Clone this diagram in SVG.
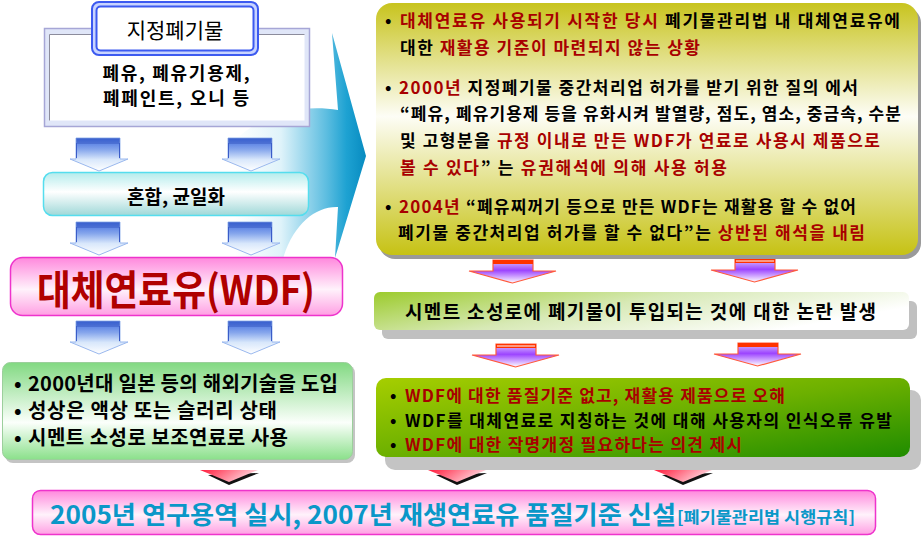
<svg xmlns="http://www.w3.org/2000/svg" width="922" height="537" viewBox="0 0 922 537">
<defs>
<style>
text { font-family: "Noto Sans CJK KR", "Noto Sans", sans-serif; fill: #000; }
.t17 { font-size: 17px; font-weight: bold; }
.t19 { font-size: 19px; font-weight: bold; }
.t20 { font-size: 20px; font-weight: bold; }
.r { fill: #a80000; }
.rb { fill: #b00000; }
.blue { fill: #0a97c8; }
</style>
<linearGradient id="gFlow" gradientUnits="userSpaceOnUse" x1="235" y1="0" x2="366" y2="0">
<stop offset="0" stop-color="#ffffff"/><stop offset="0.35" stop-color="#dff3fa"/><stop offset="0.7" stop-color="#5cbde0"/><stop offset="0.85" stop-color="#1ea2d2"/><stop offset="1" stop-color="#078bc0"/>
</linearGradient>
<linearGradient id="gBlue" x1="0" y1="0" x2="0" y2="1">
<stop offset="0" stop-color="#3f6be0"/><stop offset="0.35" stop-color="#86a6ec"/><stop offset="0.65" stop-color="#d8e7fb"/><stop offset="1" stop-color="#ffffff"/>
</linearGradient>
<linearGradient id="gPurp" x1="0" y1="0" x2="0" y2="1">
<stop offset="0" stop-color="#ddc8ff"/><stop offset="0.45" stop-color="#9c44ff"/><stop offset="1" stop-color="#ffffff"/>
</linearGradient>
<linearGradient id="gRed" x1="0" y1="0" x2="1" y2="0.3">
<stop offset="0" stop-color="#ff1a3a"/><stop offset="1" stop-color="#ffd8e0"/>
</linearGradient>
<linearGradient id="gOlive" x1="0" y1="0" x2="0" y2="1">
<stop offset="0" stop-color="#c8c41e"/><stop offset="0.45" stop-color="#fdfdf6"/><stop offset="1" stop-color="#c6c214"/>
</linearGradient>
<linearGradient id="gStrip" x1="0" y1="0" x2="1" y2="0.4">
<stop offset="0" stop-color="#9ccb2c"/><stop offset="0.5" stop-color="#d7e9b5"/><stop offset="1" stop-color="#ffffff"/>
</linearGradient>
<linearGradient id="gIssues" x1="0" y1="0" x2="1" y2="1">
<stop offset="0" stop-color="#a6ce00"/><stop offset="0.5" stop-color="#6cb000"/><stop offset="1" stop-color="#1f8c00"/>
</linearGradient>
<linearGradient id="gIntro" x1="0" y1="0" x2="0" y2="1">
<stop offset="0" stop-color="#82d982"/><stop offset="0.62" stop-color="#fbfffb"/><stop offset="1" stop-color="#8be08b"/>
</linearGradient>
<linearGradient id="gPink" x1="0" y1="0" x2="0" y2="1">
<stop offset="0" stop-color="#ff88dd"/><stop offset="0.55" stop-color="#fff2fb"/><stop offset="1" stop-color="#ff9fe3"/>
</linearGradient>
<linearGradient id="gMix" x1="0" y1="0" x2="0" y2="1">
<stop offset="0" stop-color="#b4ecec"/><stop offset="0.45" stop-color="#ffffff"/><stop offset="1" stop-color="#9fd8d8"/>
</linearGradient>
<g id="ba">
<path d="M6,0 H50 V21 H58 L29,33 L0,21 H6 Z" fill="url(#gBlue)" stroke="#9ab8ee" stroke-width="1"/>
<path d="M6,1 H50 M6,3 H50 M6,5 H50" stroke="#2f4fb8" stroke-width="0.8"/>
<path d="M6.5,5 V20 M49.5,5 V20" stroke="#3a5cc8" stroke-width="1"/>
</g>
<g id="pa">
<path d="M24,0 H64 V11 H87 L43.5,23 L0,11 H24 Z" fill="url(#gPurp)" stroke="#ff5a3c" stroke-width="1.2"/>
<rect x="24" y="0" width="40" height="4" fill="#ff3300"/>
</g>
<g id="pa2">
<use href="#pa"/>
<line x1="25" y1="2" x2="63" y2="2" stroke="#ffffff" stroke-width="1"/>
</g>
<g id="ra">
<polygon points="8,5 59,3 29,15" fill="#111111"/>
<polygon points="0,0 58,0 29,12" fill="url(#gRed)"/>
</g>
</defs>
<rect width="922" height="537" fill="#ffffff"/>

<g id="connectors">
<path d="M235,140 C262,114 300,104 338,110 L332,33 L366,156 L335,258 L338,207 C315,206 292,225 282,262 L235,262 Z" fill="url(#gFlow)"/>
<use href="#ba" x="70" y="138"/>
<use href="#ba" x="222" y="138"/>
<use href="#ba" x="70" y="222"/>
<use href="#ba" x="222" y="222"/>
<use href="#ba" x="70" y="321"/>
<use href="#ba" x="222" y="321"/>
<use href="#pa" x="469" y="260"/>
<use href="#pa2" x="711" y="259"/>
<use href="#pa2" x="472" y="344"/>
<use href="#pa" x="714" y="343"/>
<use href="#ra" x="200" y="470"/>
<use href="#ra" x="428" y="470"/>
<use href="#ra" x="654" y="470"/>
</g>

<g id="node-waste">
<rect x="44.5" y="28.5" width="265" height="98" fill="#e0e6f8" stroke="#a6a6d6" stroke-width="1.5"/>
<rect x="49.5" y="34.5" width="255" height="86" fill="#ffffff"/>
<path d="M49.5,120.5 V34.5 H304.5" fill="none" stroke="#8c8c9c" stroke-width="1"/>
<text x="176" y="80" text-anchor="middle" font-size="18" font-weight="bold" textLength="147" lengthAdjust="spacing">폐유, 폐유기용제,</text>
<text x="176" y="105" text-anchor="middle" font-size="18" font-weight="bold" textLength="146" lengthAdjust="spacing">폐페인트, 오니 등</text>
<rect x="92" y="2" width="166" height="53" rx="7" fill="#c8d4ff" stroke="#3c5af0" stroke-width="2"/>
<rect x="96.5" y="6.5" width="157" height="44" rx="4" fill="#ffffff" stroke="#3c5af0" stroke-width="2"/>
<text x="175" y="38" text-anchor="middle" font-size="21">지정폐기물</text>
</g>

<g id="node-mix">
<rect x="43.5" y="172.5" width="265" height="43" rx="9" fill="url(#gMix)" stroke="#55ddee" stroke-width="1.5"/>
<text x="176" y="204" text-anchor="middle" class="t19">혼합, 균일화</text>
</g>

<g id="node-wdf">
<rect x="10.5" y="257.5" width="332" height="58" rx="12" fill="url(#gPink)" stroke="#ee33cc" stroke-width="1.5"/>
<text x="176" y="305" text-anchor="middle" font-size="41" font-weight="bold" class="rb" textLength="278" lengthAdjust="spacingAndGlyphs">대체연료유(WDF)</text>
</g>

<g id="node-intro">
<rect x="5" y="365" width="350" height="98" rx="8" fill="#c4c4c4"/>
<rect x="2.5" y="362.5" width="350" height="97" rx="8" fill="url(#gIntro)" stroke="#9ccf9c" stroke-width="1"/>
<text x="14" y="391" class="t20">•</text>
<text x="28" y="391" class="t20" textLength="310" lengthAdjust="spacing">2000년대 일본 등의 해외기술을 도입</text>
<text x="14" y="418" class="t20">•</text>
<text x="28" y="418" class="t20" textLength="249" lengthAdjust="spacing">성상은 액상 또는 슬러리 상태</text>
<text x="14" y="445" class="t20">•</text>
<text x="28" y="445" class="t20" textLength="260" lengthAdjust="spacing">시멘트 소성로 보조연료로 사용</text>
</g>

<g id="node-history">
<rect x="379" y="7" width="542" height="252" rx="16" fill="#9a9a9a"/>
<rect x="376" y="3" width="542" height="252" rx="16" fill="url(#gOlive)"/>
<text x="385" y="27" class="t17">•</text>
<text x="400" y="27" class="t17" textLength="500" lengthAdjust="spacing"><tspan class="r">대체연료유 사용되기 시작한 당시</tspan> 폐기물관리법 내 대체연료유에</text>
<text x="400" y="54" class="t17" textLength="300" lengthAdjust="spacing">대한 <tspan class="r">재활용 기준이 마련되지 않는 상황</tspan></text>
<text x="385" y="94" class="t17">•</text>
<text x="399" y="94" class="t17" textLength="459" lengthAdjust="spacing"><tspan class="r">2000년</tspan> 지정폐기물 중간처리업 허가를 받기 위한 질의 에서</text>
<text x="400" y="120" class="t17" textLength="501" lengthAdjust="spacing">“폐유, 폐유기용제 등을 유화시켜 발열량, 점도, 염소, 중금속, 수분</text>
<text x="400" y="147" class="t17" textLength="480" lengthAdjust="spacing">및 고형분을 <tspan class="r">규정 이내로 만든 WDF가 연료로 사용시 제품으로</tspan></text>
<text x="400" y="174" class="t17" textLength="327" lengthAdjust="spacing"><tspan class="r">볼 수 있다</tspan>” 는 <tspan class="r">유권해석에 의해 사용 허용</tspan></text>
<text x="385" y="213" class="t17">•</text>
<text x="399" y="213" class="t17" textLength="457" lengthAdjust="spacing"><tspan class="r">2004년</tspan> “폐유찌꺼기 등으로 만든 WDF는 재활용 할 수 없어</text>
<text x="398" y="239" class="t17" textLength="467" lengthAdjust="spacing">폐기물 중간처리업 허가를 할 수 없다”는 <tspan class="r">상반된 해석을 내림</tspan></text>
</g>

<g id="node-debate">
<rect x="382" y="301" width="535" height="38" rx="6" fill="#c0c0c0"/>
<rect x="374" y="292" width="535" height="38" rx="6" fill="url(#gStrip)"/>
<text x="405" y="319" class="t19" textLength="471" lengthAdjust="spacing">시멘트 소성로에 폐기물이 투입되는 것에 대한 논란 발생</text>
</g>

<g id="node-issues">
<rect x="385" y="390" width="536" height="80" rx="10" fill="#c4c4c4"/>
<rect x="376" y="378" width="534" height="79" rx="10" fill="url(#gIssues)"/>
<text x="390" y="402" class="t17">•</text>
<text x="405" y="402" class="t17 r" textLength="380" lengthAdjust="spacing">WDF에 대한 품질기준 없고, 재활용 제품으로 오해</text>
<text x="390" y="427" class="t17">•</text>
<text x="405" y="427" class="t17" textLength="487" lengthAdjust="spacing">WDF를 대체연료로 지칭하는 것에 대해 사용자의 인식오류 유발</text>
<text x="390" y="451" class="t17">•</text>
<text x="405" y="451" class="t17 r" textLength="337" lengthAdjust="spacing">WDF에 대한 작명개정 필요하다는 의견 제시</text>
</g>

<g id="node-result">
<rect x="32.5" y="490.5" width="843" height="44" rx="8" fill="url(#gPink)" stroke="#ee33cc" stroke-width="1.5"/>
<text x="50" y="524" font-size="25" font-weight="bold" class="blue" textLength="626" lengthAdjust="spacingAndGlyphs">2005년 연구용역 실시,  2007년 재생연료유 품질기준 신설</text>
<text x="677" y="523" font-size="16" font-weight="bold" class="blue" textLength="178" lengthAdjust="spacingAndGlyphs">[폐기물관리법 시행규칙]</text>
</g>
</svg>
